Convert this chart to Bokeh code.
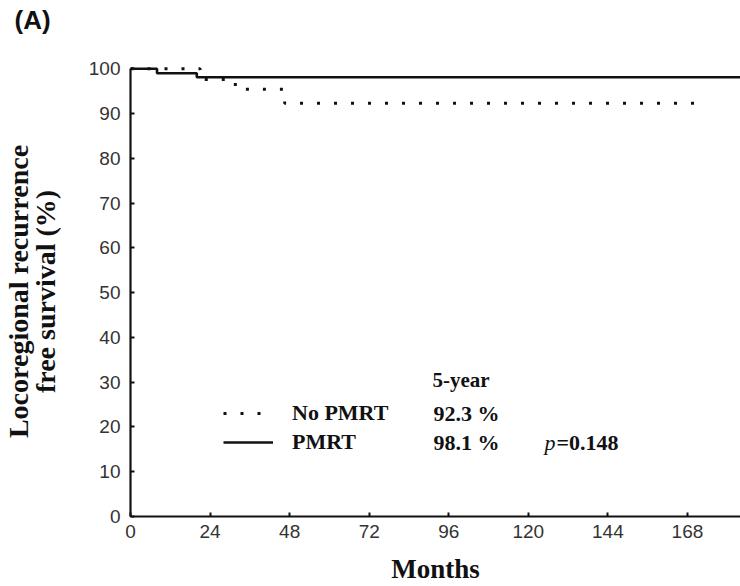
import math
from bokeh.plotting import figure
from bokeh.models import Label, Legend, LegendItem, FixedTicker, Range1d, LinearAxis, Title
from bokeh.embed import file_html
from bokeh.resources import INLINE

# ---- data ----
months_no_pmrt = [0, 21, 30, 33.5, 46.5, 173]
surv_no_pmrt = [100, 97.6, 96.5, 95.4, 92.3, 92.3]
months_pmrt = [0, 8, 20, 184]
surv_pmrt = [100, 99.0, 98.1, 98.1]
x_ticks = [0, 24, 48, 72, 96, 120, 144, 168]
y_ticks = [0, 10, 20, 30, 40, 50, 60, 70, 80, 90, 100]
series_names = ["No PMRT", "PMRT"]
five_year_header = "5-year"
five_year_values = ["92.3 %", "98.1 %"]
p_label = "p"
p_text = "=0.148"
panel_tag = "(A)"
y_title = "Locoregional recurrence\nfree survival (%)"
x_title = "Months"

SERIF = "Liberation Serif"
SANS = "Liberation Sans"

p = figure(width=740, height=586,
           x_range=Range1d(0, 184), y_range=Range1d(0, 100.5),
           output_backend="svg", toolbar_location=None,
           min_border_left=129, min_border_right=0,
           min_border_top=66, min_border_bottom=70)
p.outline_line_color = None
p.xgrid.visible = False
p.ygrid.visible = False
p.background_fill_color = "white"
p.border_fill_color = "white"
p.title.text = ""
p.title.standoff = 0

xb = p.below[0]
yl = p.left[0]

# invisible spacer axis above the frame (blank label gives it height),
# so the panel tag sits higher
spacer = LinearAxis(ticker=FixedTicker(ticks=[]), axis_line_color=None,
                    major_tick_line_color=None, minor_tick_line_color=None,
                    major_tick_in=0, major_tick_out=0, minor_tick_out=0,
                    major_label_standoff=0, axis_label=" ",
                    axis_label_standoff=0, axis_label_text_font=SANS,
                    axis_label_text_font_size="24px")
p.add_layout(spacer, "above")

tag = Title(text=panel_tag, text_font=SANS, text_font_style="bold",
            text_font_size="26px", text_color="#111111", align="left",
            offset=-116, standoff=4)
p.add_layout(tag, "above")

for ax in (xb, yl):
    ax.axis_line_width = 2.2
    ax.axis_line_color = "#111111"
    ax.major_tick_in = 4
    ax.major_tick_out = 0
    ax.major_tick_line_width = 2
    ax.major_tick_line_color = "#111111"
    ax.minor_tick_line_color = None
    ax.major_label_text_font = SANS
    ax.major_label_text_font_size = "19px"
    ax.major_label_text_color = "#333333"
    ax.axis_label_text_font = SERIF
    ax.axis_label_text_font_style = "bold"
    ax.axis_label_text_color = "#111111"

xb.ticker = FixedTicker(ticks=x_ticks)
yl.ticker = FixedTicker(ticks=y_ticks)
yl.bounds = (0, 100)
xb.major_label_standoff = 8
yl.major_label_standoff = 10
xb.axis_label = x_title
xb.axis_label_text_font_size = "27px"
xb.axis_label_standoff = 13
yl.axis_label = y_title
yl.axis_label_text_font_size = "28px"
yl.axis_label_standoff = 25
yl.axis_label_text_line_height = 0.85

r_no = p.step(months_no_pmrt, surv_no_pmrt, mode="after",
              line_color="#111111", line_width=3, line_dash="3 14")
r_yes = p.step(months_pmrt, surv_pmrt, mode="after",
               line_color="#111111", line_width=2.6)

legend = Legend(items=[LegendItem(label=series_names[0], renderers=[r_no]),
                       LegendItem(label=series_names[1], renderers=[r_yes])],
                location=(93, 61), glyph_width=50, glyph_height=26,
                label_height=26, label_standoff=19, spacing=3,
                padding=0, margin=0, border_line_color=None,
                background_fill_alpha=0,
                label_text_font=SERIF, label_text_font_style="bold",
                label_text_font_size="22px", label_text_color="#111111")
p.add_layout(legend)

def lab(text, x, y, size, font=SERIF, style="bold", align="left",
        baseline="middle", color="#111111"):
    p.add_layout(Label(x=x, y=y, x_units="screen", y_units="screen",
                       text=text, text_font=font, text_font_style=style,
                       text_font_size=size, text_align=align,
                       text_baseline=baseline, text_color=color))

# text positions relative to frame bottom-left
lab(five_year_header, 302, 137, "21px")
lab(five_year_values[0], 303, 103, "22px")
lab(five_year_values[1], 303, 74, "22px")
lab(p_label, 414, 74, "22px", style="italic")
lab(p_text, 426, 74, "22px")

open("out.html", "w").write(file_html(p, INLINE))
